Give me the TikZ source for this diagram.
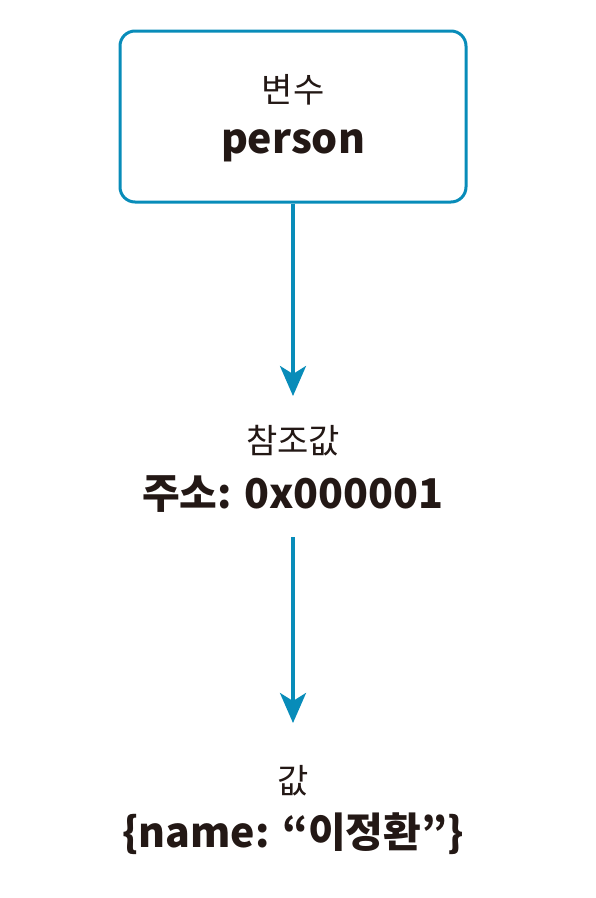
\documentclass[tikz,border=0pt]{standalone}
\usepackage{fontspec}
\setmainfont{Noto Sans CJK KR}
\usepackage{tikz}
\usetikzlibrary{arrows.meta}
\definecolor{linkblue}{RGB}{8,140,185}
\definecolor{inkdark}{RGB}{35,24,21}

\begin{document}
\begin{tikzpicture}[x=1pt,y=-1pt,
    label text/.style={font=\fontsize{34}{40}\selectfont,text=inkdark},
    main text/.style={font=\fontsize{41}{50}\selectfont\bfseries,text=inkdark},
    link/.style={draw=linkblue,line width=3.5pt,
      -{Stealth[length=30pt,width=26pt,inset=8pt]}}]
  \useasboundingbox (0,0) rectangle (596,898);
  % variable box
  \node[draw=linkblue,line width=3pt,rounded corners=15pt,
        minimum width=346pt,minimum height=171pt] (var) at (293,116.5) {};
  \node[label text] (var label) at (293,90) {변수};
  \node[main text] (var name) at (293,146) {person};
  % reference value
  \node[label text] (ref label) at (293,441) {참조값};
  \node[main text] (ref addr) at (293,494) {주소: 0x000001};
  % actual value
  \node[label text] (val label) at (293,781) {값};
  \node[main text] (val obj) at (293,834) {\{name: “이정환”\}};
  % arrows
  \coordinate (tip1) at (293,396);
  \coordinate (tip2) at (293,723);
  \coordinate (start2) at (293,537);
  \draw[link] (var.south) -- (tip1);
  \draw[link] (start2) -- (tip2);
\end{tikzpicture}
\end{document}
